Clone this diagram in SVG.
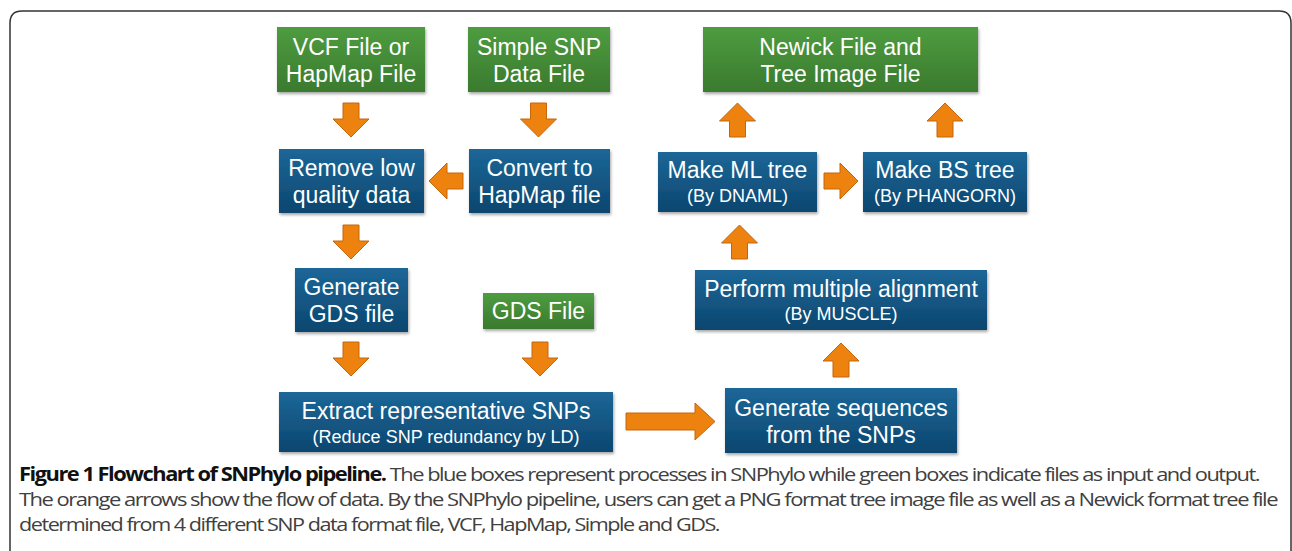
<svg xmlns="http://www.w3.org/2000/svg" xmlns:xlink="http://www.w3.org/1999/xlink" width="1292" height="551" viewBox="0 0 1292 551">
<defs>
<linearGradient id="gGreen" x1="0" y1="0" x2="0" y2="1">
<stop offset="0" stop-color="#4e9c40"/>
<stop offset="1" stop-color="#3a7a2e"/>
</linearGradient>
<linearGradient id="gBlue" x1="0" y1="0" x2="0" y2="1">
<stop offset="0" stop-color="#1c6798"/>
<stop offset="1" stop-color="#0c466f"/>
</linearGradient>
<filter id="shadow" x="-10%" y="-10%" width="120%" height="130%">
<feGaussianBlur in="SourceAlpha" stdDeviation="1.5"/>
<feOffset dx="1" dy="2" result="b"/>
<feComponentTransfer><feFuncA type="linear" slope="0.35"/></feComponentTransfer>
<feMerge><feMergeNode/><feMergeNode in="SourceGraphic"/></feMerge>
</filter>
<path id="arr" d="M-8,-17 H8 V-1 H18 L0,17 L-18,-1 H-8 Z"/>
</defs>
<style>
.green{fill:url(#gGreen);filter:url(#shadow)}
.blue{fill:url(#gBlue);filter:url(#shadow)}
.t{font-family:"Liberation Sans",Arial,sans-serif;font-size:23px;fill:#ffffff;text-anchor:middle}
.s{font-family:"Liberation Sans",Arial,sans-serif;font-size:18px;fill:#ffffff;text-anchor:middle}
.arrow{fill:#ee820f;stroke:#c4660d;stroke-width:1}
.cap{font-family:"Open Sans","Noto Sans",sans-serif;font-size:19px;fill:#404040;letter-spacing:-1.3px}
.capb{font-weight:bold;fill:#111111}
</style>
<path d="M10,551 V23 Q10,11 22,11 H1279 Q1291,11 1291,23 V551" fill="none" stroke="#333333" stroke-width="1.5"/>

<g id="vcf">
<rect class="green" x="277" y="27" width="148" height="65"/>
<text class="t" x="351" y="55">VCF File or</text>
<text class="t" x="351" y="82">HapMap File</text>
</g>
<g id="simple">
<rect class="green" x="468" y="27" width="142" height="65"/>
<text class="t" x="539" y="55">Simple SNP</text>
<text class="t" x="539" y="82">Data File</text>
</g>
<g id="newick">
<rect class="green" x="703" y="27" width="275" height="65"/>
<text class="t" x="840.5" y="55">Newick File and</text>
<text class="t" x="840.5" y="82">Tree Image File</text>
</g>
<g id="remove">
<rect class="blue" x="279" y="149" width="145" height="64"/>
<text class="t" x="351.5" y="176">Remove low</text>
<text class="t" x="351.5" y="203">quality data</text>
</g>
<g id="convert">
<rect class="blue" x="469" y="149" width="141" height="64"/>
<text class="t" x="539.5" y="176">Convert to</text>
<text class="t" x="539.5" y="203">HapMap file</text>
</g>
<g id="mltree">
<rect class="blue" x="658" y="152" width="159" height="60"/>
<text class="t" x="737.5" y="178">Make ML tree</text>
<text class="s" x="737.5" y="202">(By DNAML)</text>
</g>
<g id="bstree">
<rect class="blue" x="863" y="152" width="164" height="60"/>
<text class="t" x="945" y="178">Make BS tree</text>
<text class="s" x="945" y="202">(By PHANGORN)</text>
</g>
<g id="gengds">
<rect class="blue" x="295" y="268" width="113" height="64"/>
<text class="t" x="351.5" y="295">Generate</text>
<text class="t" x="351.5" y="322">GDS file</text>
</g>
<g id="gdsfile">
<rect class="green" x="483" y="293" width="111" height="36"/>
<text class="t" x="538.5" y="319">GDS File</text>
</g>
<g id="perform">
<rect class="blue" x="695" y="270" width="292" height="60"/>
<text class="t" x="841" y="297">Perform multiple alignment</text>
<text class="s" x="841" y="320">(By MUSCLE)</text>
</g>
<g id="extract">
<rect class="blue" x="279" y="392" width="334" height="60"/>
<text class="t" x="446" y="419">Extract representative SNPs</text>
<text class="s" x="446" y="443">(Reduce SNP redundancy by LD)</text>
</g>
<g id="genseq">
<rect class="blue" x="725" y="388" width="232" height="65"/>
<text class="t" x="841" y="416">Generate sequences</text>
<text class="t" x="841" y="443">from the SNPs</text>
</g>

<g id="connectors">
<use class="arrow" xlink:href="#arr" transform="translate(351,120)"/>
<use class="arrow" xlink:href="#arr" transform="translate(538.5,120)"/>
<use class="arrow" xlink:href="#arr" transform="translate(446,181) rotate(90)"/>
<use class="arrow" xlink:href="#arr" transform="translate(351,242)"/>
<use class="arrow" xlink:href="#arr" transform="translate(351,359)"/>
<use class="arrow" xlink:href="#arr" transform="translate(540,359)"/>
<path class="arrow" d="M626,413 H695 V403 L715,421.5 L695,440 V430 H626 Z"/>
<use class="arrow" xlink:href="#arr" transform="translate(841,360) rotate(180)"/>
<use class="arrow" xlink:href="#arr" transform="translate(739.5,242) rotate(180)"/>
<use class="arrow" xlink:href="#arr" transform="translate(841,181) rotate(-90)"/>
<use class="arrow" xlink:href="#arr" transform="translate(737.5,120) rotate(180)"/>
<use class="arrow" xlink:href="#arr" transform="translate(945,120) rotate(180)"/>
</g>

<g id="caption">
<text class="cap" x="19" y="481" textLength="1240" lengthAdjust="spacingAndGlyphs"><tspan class="capb">Figure 1 Flowchart of SNPhylo pipeline.</tspan> The blue boxes represent processes in SNPhylo while green boxes indicate files as input and output.</text>
<text class="cap" x="19" y="506" textLength="1258" lengthAdjust="spacingAndGlyphs">The orange arrows show the flow of data. By the SNPhylo pipeline, users can get a PNG format tree image file as well as a Newick format tree file</text>
<text class="cap" x="19" y="531" textLength="700" lengthAdjust="spacingAndGlyphs">determined from 4 different SNP data format file, VCF, HapMap, Simple and GDS.</text>
</g>
</svg>
